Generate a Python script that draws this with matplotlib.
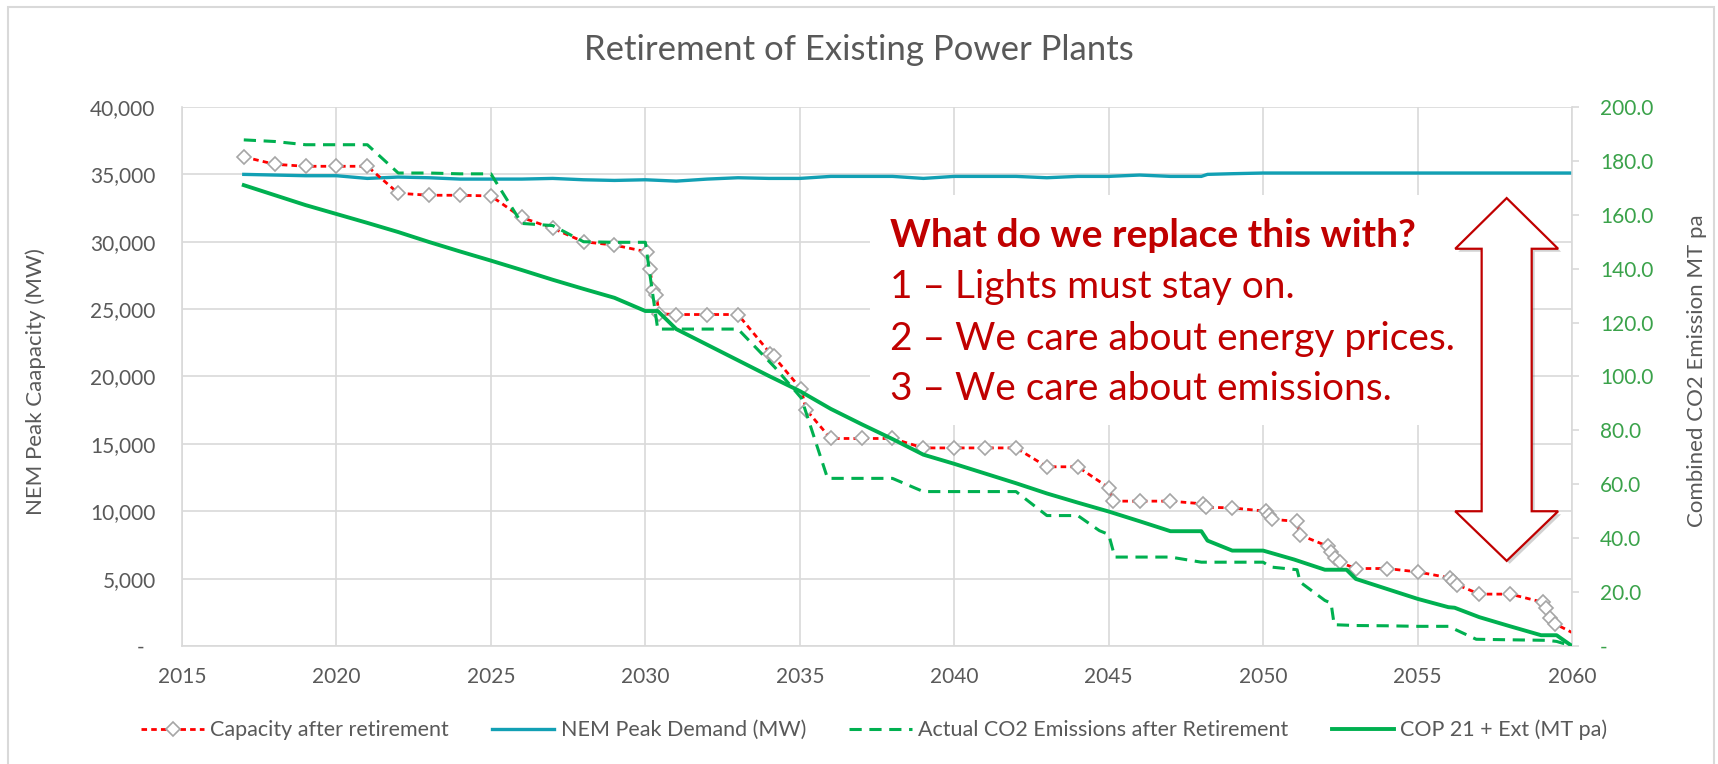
import matplotlib
matplotlib.use("Agg")
import matplotlib.pyplot as plt
from matplotlib.patches import Polygon, Rectangle
from matplotlib.ticker import FuncFormatter, MultipleLocator
import matplotlib.transforms as mtransforms

plt.rcParams['font.family'] = ['Lato', 'DejaVu Sans']

# ---------------- data ----------------
title = "Retirement of Existing Power Plants"
left_label = "NEM Peak Caapacity (MW)"
right_label = "Combined CO2 Emission MT pa"
legend_labels = ["Capacity after retirement", "NEM Peak Demand (MW)",
                 "Actual CO2 Emissions after Retirement", "COP 21 + Ext (MT pa)"]
note_lines = ["What do we replace this with?",
              "1 \u2013 Lights must stay on.",
              "2 \u2013 We care about energy prices.",
              "3 \u2013 We care about emissions."]

cap_years = [2017, 2018, 2019, 2020, 2021, 2022, 2023, 2024, 2025, 2026, 2027, 2028, 2029,
             2030.05, 2030.15, 2030.25, 2030.35, 2030.45, 2031, 2032, 2033, 2034.05, 2034.15,
             2035.05, 2035.2, 2036, 2037, 2038, 2039, 2040, 2041, 2042, 2043, 2044, 2045,
             2045.15, 2046, 2047, 2048.05, 2048.15, 2049, 2050.1, 2050.18, 2050.28, 2051.1,
             2051.18, 2052.1, 2052.2, 2052.33, 2052.5, 2053, 2054, 2055, 2056.05, 2056.15,
             2056.28, 2057, 2058, 2059.05, 2059.17, 2059.3, 2059.45, 2060]
cap_mw = [36300, 35750, 35600, 35600, 35600, 33600, 33450, 33450, 33400, 31800, 31000, 30000, 29750,
          29250, 27950, 26400, 26050, 24650, 24600, 24600, 24600, 21700, 21500,
          19050, 17550, 15400, 15400, 15400, 14700, 14700, 14700, 14700, 13300, 13300, 11750,
          10750, 10750, 10750, 10550, 10300, 10250, 10000, 9750, 9400, 9250,
          8250, 7400, 6950, 6550, 6200, 5750, 5750, 5500, 5050, 4850,
          4550, 3850, 3850, 3250, 2800, 2100, 1650, 1000]

demand_years = [2017, 2018, 2019, 2020, 2021, 2022, 2023, 2024, 2025, 2026, 2027, 2028, 2029,
                2030, 2031, 2032, 2033, 2034, 2035, 2036, 2037, 2038, 2039, 2040, 2041, 2042,
                2043, 2044, 2045, 2046, 2047, 2048, 2048.2, 2049, 2050, 2051, 2052, 2053, 2054,
                2055, 2056, 2057, 2058, 2059, 2060]
demand_mw = [35000, 34950, 34900, 34900, 34700, 34800, 34750, 34650, 34650, 34650, 34700, 34600, 34550,
             34600, 34500, 34650, 34750, 34700, 34700, 34850, 34850, 34850, 34700, 34850, 34850, 34850,
             34750, 34850, 34850, 34950, 34850, 34850, 35000, 35050, 35100, 35100, 35100, 35100, 35100,
             35100, 35100, 35100, 35100, 35100, 35100]

actual_years = [2017, 2018, 2019, 2020, 2021, 2022, 2023, 2024, 2025, 2026, 2027, 2028, 2029, 2030,
                2030.4, 2031, 2032, 2033, 2034.2, 2035.05, 2035.9, 2037, 2038, 2039, 2040, 2041,
                2042, 2043, 2044, 2044.7, 2045, 2045.2, 2046, 2047, 2048, 2049, 2050, 2050.25,
                2051.1, 2051.2, 2052, 2052.2, 2052.3, 2053, 2054, 2055, 2056, 2056.9, 2058,
                2059.2, 2059.5, 2060]
actual_mt = [187.8, 187.2, 186.0, 186.0, 186.0, 175.5, 175.5, 175.2, 175.2, 156.8, 156.0, 150.0, 149.8, 149.8,
             117.6, 117.6, 117.6, 117.6, 103.3, 92.0, 62.2, 62.2, 62.2, 57.3, 57.3, 57.3,
             57.3, 48.4, 48.4, 42.8, 41.4, 33.0, 33.0, 33.0, 31.1, 31.1, 31.1, 29.3,
             28.3, 23.7, 16.9, 15.9, 7.9, 7.6, 7.5, 7.3, 7.3, 2.5, 2.3,
             2.1, 1.7, 0.0]

cop_years = [2017, 2018, 2019, 2020, 2021, 2022, 2023, 2024, 2025, 2026, 2027, 2028, 2029, 2030,
             2030.4, 2031, 2032, 2033, 2034, 2035, 2036, 2037, 2038, 2039, 2040, 2041, 2042, 2043,
             2044, 2045, 2046, 2047, 2048, 2048.2, 2049, 2050, 2051, 2052, 2052.7, 2053, 2054,
             2055, 2056, 2056.2, 2057, 2058, 2059, 2059.5, 2060]
cop_mt = [171.0, 167.3, 163.6, 160.3, 157.0, 153.6, 149.9, 146.4, 143.0, 139.5, 135.9, 132.5, 129.2, 124.3,
          124.3, 117.6, 111.8, 106.0, 100.2, 94.6, 88.0, 82.3, 76.8, 71.0, 67.6, 64.0, 60.4, 56.6,
          53.2, 49.9, 46.3, 42.6, 42.6, 39.1, 35.4, 35.4, 32.1, 28.3, 28.3, 24.9, 21.2,
          17.5, 14.4, 14.2, 10.7, 7.3, 4.0, 4.0, 0.0]

x_ticks = [2015, 2020, 2025, 2030, 2035, 2040, 2045, 2050, 2055, 2060]

# ---------------- styles ----------------
GRAY_TXT = "#595959"
GRID = "#d9d9d9"
RED = "#ff0000"
TEAL = "#12a0b4"
GREEN = "#00b050"
GREEN_TXT = "#3aa24a"
DARKRED = "#c00000"

fig = plt.figure(figsize=(17.18, 7.64), dpi=100)
ax = fig.add_axes([0.10594, 0.15445, 0.80908, 0.70550])
ax2 = ax.twinx()

# chart-area border
fig.add_artist(Rectangle((8 / 1718, -0.05), 1706 / 1718, 1.05 - 7 / 764,
                         transform=fig.transFigure, fill=False, edgecolor=GRID, lw=1.5))

ax.set_xlim(2015, 2060)
ax.set_ylim(0, 40000)
ax2.set_ylim(0, 200)
ax.set_xticks(x_ticks)
ax.yaxis.set_major_locator(MultipleLocator(5000))
ax2.yaxis.set_major_locator(MultipleLocator(20))

ax.yaxis.set_major_formatter(FuncFormatter(lambda v, p: "-  " if v == 0 else f"{int(v):,}"))
ax2.yaxis.set_major_formatter(FuncFormatter(lambda v, p: "-" if v == 0 else f"{v:.1f}"))

ax.set_axisbelow(True)
ax.grid(True, color=GRID, lw=1.2)
for s in ["top", "right"]:
    ax.spines[s].set_visible(False)
for s in ["left", "bottom"]:
    ax.spines[s].set_color(GRID)
    ax.spines[s].set_linewidth(1.2)
for s in ["top", "left", "bottom"]:
    ax2.spines[s].set_visible(False)
ax2.spines["right"].set_color(GRID)
ax2.spines["right"].set_linewidth(1.2)

ax.tick_params(axis="y", length=0, pad=19, labelsize=15, labelcolor=GRAY_TXT)
ax.tick_params(axis="x", length=0, pad=15, labelsize=15, labelcolor=GRAY_TXT)
ax2.tick_params(axis="y", length=5, width=1.2, color=GRID, pad=15, labelsize=15, labelcolor=GREEN_TXT)

ax.set_ylabel(left_label, fontsize=16, color=GRAY_TXT)
ax.yaxis.set_label_coords(-0.098, 0.49)
ax2.set_ylabel(right_label, fontsize=16, color=GRAY_TXT)
ax2.yaxis.set_label_coords(1.083, 0.51)

fig.text(0.5, 0.935, title, ha="center", va="center", fontsize=25, color=GRAY_TXT)

# white text box behind the note
ax.add_patch(Rectangle((0.495, 0.41), 0.445, 0.427, transform=ax.transAxes,
                       facecolor="white", edgecolor="none", zorder=1))

# series
l1, = ax.plot(cap_years, cap_mw, color=RED, lw=2.0, linestyle=(0, (2, 1.5)),
              marker="D", markersize=7, markerfacecolor="white", markeredgecolor="#a6a6a6",
              markeredgewidth=1.2, markevery=slice(0, len(cap_years) - 1), zorder=4)
l2, = ax.plot(demand_years, demand_mw, color=TEAL, lw=2.4, zorder=3)
l3, = ax2.plot(actual_years, actual_mt, color=GREEN, lw=2.2, linestyle=(0, (4, 2.5)), zorder=3)
l4, = ax2.plot(cop_years, cop_mt, color=GREEN, lw=2.8, zorder=3)

# note text
ys = [0.740, 0.646, 0.549, 0.456]
for i, (line, yy) in enumerate(zip(note_lines, ys)):
    ax.text(0.509, yy, line, transform=ax.transAxes, ha="left", va="baseline",
            fontsize=28, color=DARKRED, fontweight="bold" if i == 0 else "normal", zorder=5)

# double-headed block arrow
cx, hw, sw = 0.953, 0.037, 0.018
yt, yht, yhb, yb = 0.831, 0.737, 0.250, 0.158
verts = [(cx, yt), (cx + hw, yht), (cx + sw, yht), (cx + sw, yhb), (cx + hw, yhb), (cx, yb),
         (cx - hw, yhb), (cx - sw, yhb), (cx - sw, yht), (cx - hw, yht)]
shadow_tr = mtransforms.offset_copy(ax2.transAxes, fig=fig, x=3, y=-3, units="dots")
ax2.add_patch(Polygon(verts, closed=True, transform=shadow_tr, facecolor="#7f7f7f",
                      edgecolor="none", alpha=0.35, zorder=6))
ax2.add_patch(Polygon(verts, closed=True, transform=ax2.transAxes, facecolor="white",
                      edgecolor=DARKRED, lw=1.6, zorder=7))

leg = fig.legend([l1, l2, l3, l4], legend_labels, loc="center", bbox_to_anchor=(0.509, 0.0445),
                 ncol=4, frameon=False, fontsize=15.5, handlelength=2.9, columnspacing=2.0,
                 handletextpad=0.3)
for t in leg.get_texts():
    t.set_color(GRAY_TXT)

fig.savefig("out.png", dpi=100)
